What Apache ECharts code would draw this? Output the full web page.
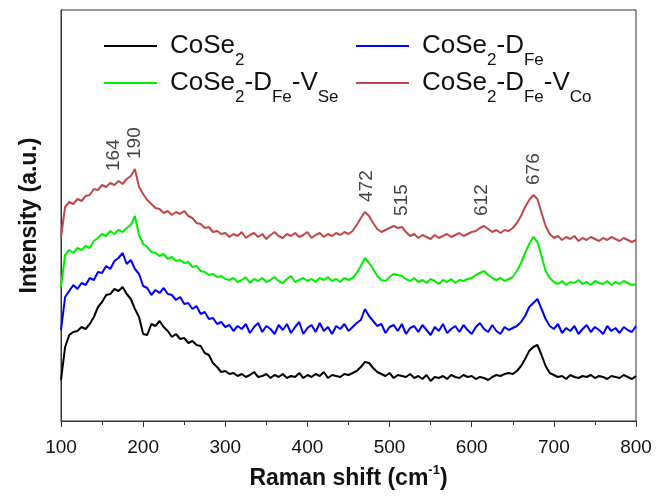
<!DOCTYPE html>
<html><head><meta charset="utf-8">
<script src="https://cdn.jsdelivr.net/npm/echarts@6/dist/echarts.min.js"></script>
<style>html,body{margin:0;padding:0;background:#fff}#c{width:659px;height:497px}</style>
</head><body><div id="c"></div>
<script>
// Raman shift (cm-1) sampling grid
const ramanShift = [
100,105,110,115,120,125,130,135,140,145,
150,155,160,165,170,175,180,185,190,195,
200,205,210,215,220,225,230,235,240,245,
250,255,260,265,270,275,280,285,290,295,
300,305,310,315,320,325,330,335,340,345,
350,355,360,365,370,375,380,385,390,395,
400,405,410,415,420,425,430,435,440,445,
450,455,460,465,470,475,480,485,490,495,
500,505,510,515,520,525,530,535,540,545,
550,555,560,565,570,575,580,585,590,595,
600,605,610,615,620,625,630,635,640,645,
650,655,660,665,670,675,680,685,690,695,
700,705,710,715,720,725,730,735,740,745,
750,755,760,765,770,775,780,785,790,795,
800];

// Intensity (a.u., stacked offsets as drawn)
const cose2 = [
41,74,86,89,90,94,92,97,104,114,
119,126,127,132,130,134,127,122,112,104,
87,86,97,95,100,94,90,84,87,82,
83,78,80,76,75,68,66,58,54,49,
50,47,48,45,47,44,46,49,44,45,
47,43,46,44,47,43,45,44,48,43,
46,44,47,45,49,43,46,45,44,47,
46,48,50,54,59,58,53,49,47,45,
48,43,46,45,44,47,43,45,42,46,
40,44,43,45,42,46,44,43,46,44,
45,42,44,43,41,44,46,45,47,48,
47,50,55,62,70,74,76,66,55,48,
46,44,45,42,46,44,43,45,44,46,
43,45,44,42,45,44,43,46,44,42,
45];

const cose2Dfe = [
91,124,130,136,132,138,136,143,141,149,
148,155,152,160,163,168,157,161,152,147,
135,133,126,131,128,133,127,126,121,124,
117,118,112,115,107,109,102,103,97,99,
94,96,90,95,92,97,88,94,98,89,
95,92,87,96,91,97,88,94,99,87,
93,96,89,98,90,94,87,95,92,97,
90,94,98,101,112,105,100,95,97,88,
94,96,90,97,87,93,95,89,96,91,
86,94,90,97,88,92,95,89,96,91,
87,94,98,92,89,96,90,87,94,91,
93,95,99,105,114,118,122,112,102,95,
92,97,88,93,90,95,87,92,96,89,
94,91,87,95,90,93,88,94,91,89,
95];

const cose2DfeVse = [
134,166,171,168,173,171,175,173,180,183,
187,185,190,187,191,189,193,196,205,186,
177,174,169,168,165,167,162,164,160,161,
158,159,154,155,150,149,146,147,144,145,
142,141,143,139,141,144,138,142,140,143,
139,141,144,140,138,142,145,139,141,143,
140,142,139,143,141,144,140,142,139,143,
141,143,148,155,163,158,152,145,141,140,
144,147,146,145,142,140,143,139,141,138,
142,140,137,141,139,142,138,141,140,142,
143,146,148,150,146,143,141,143,140,142,
144,150,158,168,177,184,179,165,150,143,
139,137,140,136,139,138,141,137,139,136,
140,138,137,140,136,139,137,140,138,136,
137];

const cose2DfeVco = [
184,214,219,217,222,220,225,226,232,231,
236,234,238,236,240,237,242,245,252,234,
227,221,217,213,212,208,210,206,209,207,
210,205,203,198,197,193,194,189,190,187,
188,184,187,185,189,183,186,188,184,187,
182,186,189,185,183,187,185,188,184,186,
189,183,186,188,184,187,185,188,186,189,
187,190,196,203,209,205,198,192,189,191,
193,195,193,194,189,185,187,183,186,184,
182,186,183,185,187,184,186,188,185,187,
189,190,193,195,192,189,191,188,191,190,
193,198,205,214,221,226,222,208,195,187,
183,185,181,184,182,185,180,183,181,184,
182,180,183,181,184,182,180,183,181,179,
181];

const seriesNames = ['CoSe2', 'CoSe2-DFe', 'CoSe2-DFe-VSe', 'CoSe2-DFe-VCo'];
const seriesRich = [
  '{sp| }{n|CoSe}{s|2}',
  '{sp| }{n|CoSe}{s|2}{n|-D}{s|Fe}',
  '{sp| }{n|CoSe}{s|2}{n|-D}{s|Fe}{n|-V}{s|Se}',
  '{sp| }{n|CoSe}{s|2}{n|-D}{s|Fe}{n|-V}{s|Co}'
];
const peakPositions = [164, 190, 472, 515, 612, 676];
const xMin = 100, xMax = 800, xStep = 100;

const FONT = '"Liberation Sans", Arial, Helvetica, sans-serif';
const seriesData = [cose2, cose2Dfe, cose2DfeVse, cose2DfeVco];
const seriesColors = ['#000000', '#0000ff', '#00ee00', '#c0474a'];

// label anchors follow the top (red) trace near each peak
const peakData = peakPositions.map(p => {
  let m = -Infinity;
  ramanShift.forEach((x, i) => { if (Math.abs(x - p) <= 10) m = Math.max(m, cose2DfeVco[i]); });
  return [p, m];
});

const legendRich = {
  sp: { width: 8, fontSize: 10, fontFamily: FONT },
  n: { fontSize: 26, fontFamily: FONT, color: '#111', lineHeight: 26, verticalAlign: 'middle' },
  s: { fontSize: 17, fontFamily: FONT, color: '#111', lineHeight: 46, verticalAlign: 'bottom' }
};

const legendPos = [[104, 33], [356, 33], [104, 70], [356, 70]];

const chart = echarts.init(document.getElementById('c'), null, { renderer: 'canvas' });
chart.setOption({
  animation: false,
  backgroundColor: '#fff',
  grid: { left: 61, right: 23, top: 10, bottom: 76, show: true, borderColor: '#333', borderWidth: 1, backgroundColor: 'transparent' },
  legend: seriesNames.map((nm, i) => ({
    data: [nm], left: legendPos[i][0], top: legendPos[i][1], padding: 0,
    icon: 'rect', itemWidth: 53, itemHeight: 2, selectedMode: false,
    formatter: () => seriesRich[i],
    textStyle: { rich: legendRich }
  })),
  xAxis: {
    type: 'value', min: xMin, max: xMax, interval: xStep,
    name: '{n|Raman shift (cm}{sup|-1}{n|)}', nameLocation: 'middle', nameGap: 43,
    nameTextStyle: {
      rich: {
        n: { fontSize: 23, fontWeight: 'bold', fontFamily: FONT, color: '#111', lineHeight: 30, verticalAlign: 'middle' },
        sup: { fontSize: 13, fontWeight: 'bold', fontFamily: FONT, color: '#111', lineHeight: 14, verticalAlign: 'top' }
      }
    },
    axisLine: { show: true, onZero: false, lineStyle: { color: '#333', width: 1 } },
    axisTick: { show: true, length: 6, lineStyle: { color: '#333' } },
    minorTick: { show: true, splitNumber: 2, length: 4, lineStyle: { color: '#333' } },
    axisLabel: { fontSize: 19, fontFamily: FONT, color: '#111', margin: 17 },
    splitLine: { show: false }
  },
  yAxis: {
    type: 'value', min: 0, max: 411,
    name: 'Intensity (a.u.)', nameLocation: 'middle', nameGap: 20,
    nameTextStyle: { fontSize: 23, fontWeight: 'bold', fontFamily: FONT, color: '#111' },
    axisLine: { show: true, lineStyle: { color: '#333', width: 1 } },
    axisTick: { show: false }, axisLabel: { show: false }, splitLine: { show: false }
  },
  series: seriesNames.map((nm, i) => ({
    name: nm, type: 'line', symbol: 'none', showSymbol: false,
    data: ramanShift.map((x, j) => [x, seriesData[i][j]]),
    lineStyle: { color: seriesColors[i], width: 2 },
    itemStyle: { color: seriesColors[i] }
  })).concat([{
    name: 'peaks', type: 'scatter', symbolSize: 0, silent: true,
    data: peakData,
    label: {
      show: true, position: 'top', distance: 10, rotate: 90,
      align: 'left', verticalAlign: 'middle',
      fontSize: 19, fontFamily: FONT, color: '#111',
      formatter: p => String(p.value[0])
    }
  }])
});
</script></body></html>
